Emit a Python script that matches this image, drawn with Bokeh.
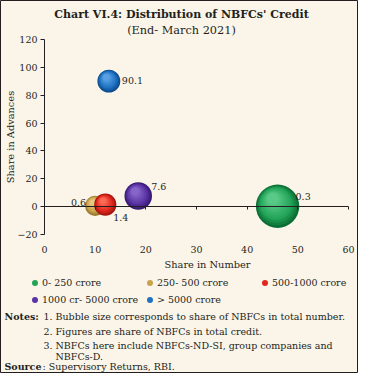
import math
from bokeh.plotting import figure
from bokeh.models import (ColumnDataSource, LinearAxis, FixedTicker, Label,
                          Legend, LegendItem, Range1d)
from bokeh.embed import file_html
from bokeh.resources import INLINE

# ---------------- data ----------------
categories = ["0- 250 crore", "250- 500 crore", "500-1000 crore",
              "1000 cr- 5000 crore", "> 5000 crore"]
share_in_number = [46.0, 10.0, 12.0, 18.5, 12.7]      # x, also bubble size
share_in_advances = [0.3, 0.6, 1.4, 7.6, 90.1]        # y
value_labels = ["0.3", "0.6", "1.4", "7.6", "90.1"]
x_ticks = [0, 10, 20, 30, 40, 50, 60]
y_ticks = [-20, 0, 20, 40, 60, 80, 100, 120]

title_text = "Chart VI.4: Distribution of NBFCs' Credit"
subtitle_text = "(End- March 2021)"
x_title = "Share in Number"
y_title = "Share in Advances"
note_numbers = ["1.", "2.", "3.", ""]
note_lines = ["Bubble size corresponds to share of NBFCs in total number.",
              "Figures are share of NBFCs in total credit.",
              "NBFCs here include NBFCs-ND-SI, group companies and",
              "NBFCs-D."]
source_head = "Source"
source_rest = ": Supervisory Returns, RBI."

# ---------------- style ----------------
W, H = 358, 373
XL_PX, XR_PX = 44, 348        # pixel positions of first/last x tick
YT_PX, YB_PX = 39, 234        # pixel positions of top/bottom y tick
FONT = "DejaVu Serif"
INK = "#231f20"
BG = "#fbf5e9"
edge_cols = ["#0b6e34", "#97762a", "#a3150f", "#371a72", "#0e4c90"]
main_cols = ["#22a458", "#c9a24e", "#e2261c", "#5a33a4", "#1f72c2"]
light_cols = ["#62cf8f", "#e9cf8a", "#ff7560", "#8f6fd0", "#63a8ea"]
label_offsets = [(18, -10, "left"), (-9, -3, "right"), (8, 13, "left"),
                 (13, -10, "left"), (13, -1, "left")]

x0, x1 = min(x_ticks), max(x_ticks)
y0, y1 = min(y_ticks), max(y_ticks)
sx = (XR_PX - XL_PX) / (x1 - x0)
sy = (YB_PX - YT_PX) / (y1 - y0)
xr = Range1d(x0 - XL_PX / sx, x1 + (W - XR_PX) / sx)
yr = Range1d(y0 - (H - YB_PX) / sy, y1 + YT_PX / sy)


def px_x(px):
    return xr.start + px / sx


def px_y(py):
    return yr.end - py / sy


p = figure(width=W, height=H, x_range=xr, y_range=yr, title=None,
           output_backend="svg", toolbar_location=None,
           min_border=0, min_border_left=0, min_border_right=0,
           min_border_top=0, min_border_bottom=0,
           x_axis_type=None, y_axis_type=None,
           background_fill_color=BG, border_fill_color=BG,
           outline_line_color=INK, outline_line_width=1)
p.xgrid.visible = False
p.ygrid.visible = False

# axes
yaxis = LinearAxis(fixed_location=0, bounds=(y0, y1),
                   ticker=FixedTicker(ticks=y_ticks))
yaxis.axis_line_color = INK
yaxis.major_tick_line_color = INK
yaxis.major_tick_out = 4
yaxis.major_tick_in = 0
yaxis.minor_tick_line_color = None
yaxis.major_label_standoff = 3
yaxis.major_label_text_font = FONT
yaxis.major_label_text_font_size = "9.5px"
yaxis.major_label_text_color = INK
p.add_layout(yaxis, "left")

xaxis = LinearAxis(fixed_location=0, bounds=(x0, x1),
                   ticker=FixedTicker(ticks=x_ticks))
xaxis.axis_line_color = INK
xaxis.major_tick_line_color = INK
xaxis.major_tick_out = 3
xaxis.major_tick_in = 0
xaxis.minor_tick_line_color = None
xaxis.major_label_standoff = 36
xaxis.major_label_text_font = FONT
xaxis.major_label_text_font_size = "9.5px"
xaxis.major_label_text_color = INK
p.add_layout(xaxis, "below")


def mix(c1, c2, t):
    a = [int(c1[i:i + 2], 16) for i in (1, 3, 5)]
    b = [int(c2[i:i + 2], 16) for i in (1, 3, 5)]
    return "#%02x%02x%02x" % tuple(round(a[j] + (b[j] - a[j]) * t) for j in range(3))


# bubbles drawn as shaded spheres
N_LAYERS = 10
legend_items = []
for i, cat in enumerate(categories):
    d = 6.4 * math.sqrt(share_in_number[i])   # area proportional to share in number
    legend_r = None
    for k in range(N_LAYERS):
        t = k / N_LAYERS
        size = d * (1 - 0.82 * t)
        off = (d - size) / 2 * 0.55
        if t < 0.3:
            col = mix(edge_cols[i], main_cols[i], t / 0.3)
        else:
            col = mix(main_cols[i], light_cols[i], (t - 0.3) / 0.7)
        src = ColumnDataSource(dict(
            x=[share_in_number[i] - off * 0.55 / sx],
            y=[share_in_advances[i] + off * 0.85 / sy],
            s=[size]))
        r = p.scatter("x", "y", size="s", source=src, fill_color=col,
                      line_color=None, marker="circle")
        if k == 3:
            legend_r = r
    legend_items.append(LegendItem(label=cat, renderers=[legend_r]))

    dx, dy, al = label_offsets[i]
    p.add_layout(Label(x=share_in_number[i], y=share_in_advances[i],
                       x_offset=dx, y_offset=-dy, text=value_labels[i],
                       text_align=al, text_baseline="middle",
                       text_font=FONT, text_font_size="9.5px", text_color=INK))

# titles
p.add_layout(Label(x=px_x(181), y=px_y(14), text=title_text,
                   text_align="center", text_baseline="middle",
                   text_font=FONT, text_font_style="bold",
                   text_font_size="11px", text_color=INK))
p.add_layout(Label(x=px_x(181), y=px_y(30), text=subtitle_text,
                   text_align="center", text_baseline="middle",
                   text_font=FONT, text_font_size="11.3px", text_color=INK))
p.add_layout(Label(x=px_x(10), y=px_y((YT_PX + YB_PX) / 2), text=y_title,
                   angle=math.pi / 2, text_align="center",
                   text_baseline="middle", text_font=FONT,
                   text_font_size="9.8px", text_color=INK))
p.add_layout(Label(x=px_x(207), y=px_y(264), text=x_title,
                   text_align="center", text_baseline="middle",
                   text_font=FONT, text_font_size="9.8px", text_color=INK))

# legend
legend = Legend(items=legend_items, orientation="horizontal", ncols=3,
                location=(27, 65.5), glyph_width=15, glyph_height=17,
                label_height=17, label_width=100, label_standoff=0,
                spacing=0, padding=0, margin=0,
                border_line_color=None, background_fill_alpha=0,
                label_text_font=FONT, label_text_font_size="9.5px",
                label_text_color=INK, label_text_baseline="middle")
p.add_layout(legend, "center")

# notes
NOTE_FS = "9.5px"
ys = [316, 331, 345, 356]
p.add_layout(Label(x=px_x(4), y=px_y(ys[0]), text="Notes:",
                   text_align="left", text_baseline="middle",
                   text_font=FONT, text_font_style="bold",
                   text_font_size=NOTE_FS, text_color=INK))
for num, line, yy in zip(note_numbers, note_lines, ys):
    if num:
        p.add_layout(Label(x=px_x(43), y=px_y(yy), text=num,
                           text_align="left", text_baseline="middle",
                           text_font=FONT, text_font_size=NOTE_FS,
                           text_color=INK))
    p.add_layout(Label(x=px_x(55), y=px_y(yy), text=line,
                       text_align="left", text_baseline="middle",
                       text_font=FONT, text_font_size=NOTE_FS,
                       text_color=INK))
p.add_layout(Label(x=px_x(4), y=px_y(366), text=source_head,
                   text_align="left", text_baseline="middle",
                   text_font=FONT, text_font_style="bold",
                   text_font_size=NOTE_FS, text_color=INK))
p.add_layout(Label(x=px_x(42), y=px_y(366), text=source_rest,
                   text_align="left", text_baseline="middle",
                   text_font=FONT, text_font_size=NOTE_FS, text_color=INK))

open("out.html", "w").write(file_html(p, INLINE))
